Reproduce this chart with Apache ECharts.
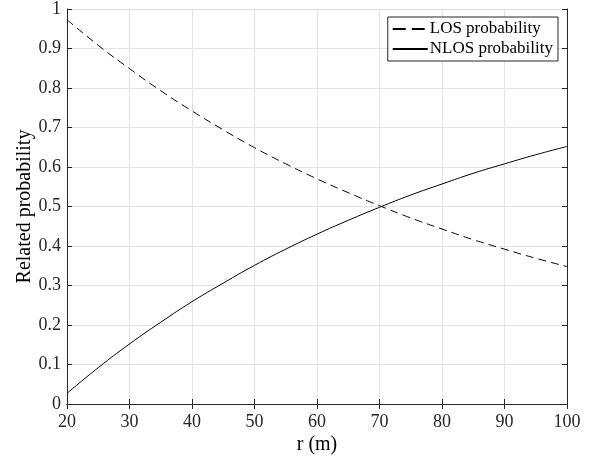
<!DOCTYPE html>
<html>
<head>
<meta charset="utf-8">
<script src="https://cdn.jsdelivr.net/npm/echarts@6/dist/echarts.min.js"></script>
<style>
html, body { margin: 0; padding: 0; background: #fff; }
#graph { width: 591px; height: 456px; }
</style>
</head>
<body>
<div id="graph"></div>
<script>
// distance r (m)
var distances = [20, 25, 30, 35, 40, 45, 50, 55, 60, 65, 70, 75, 80, 85, 90, 95, 100];
var losProb = [0.973, 0.908, 0.849, 0.793, 0.742, 0.694, 0.649, 0.608, 0.570, 0.535, 0.502, 0.471, 0.443, 0.416, 0.392, 0.369, 0.348];
var nlosProb = [0.027, 0.092, 0.152, 0.207, 0.259, 0.306, 0.351, 0.392, 0.430, 0.465, 0.498, 0.529, 0.557, 0.584, 0.608, 0.631, 0.652];
var seriesNames = ['LOS probability', 'NLOS probability'];

var dom = document.getElementById("graph");
var chart = echarts.init(dom);

var font = 'Liberation Serif';

function pairs(ys) {
    return distances.map(function (x, i) { return [x, ys[i]]; });
}

var frameAxis = {
    axisLine: { show: true, lineStyle: { color: '#262626', width: 1 } },
    axisTick: { show: true, inside: true, length: 5, lineStyle: { color: '#262626' } },
    axisLabel: { show: false },
    splitLine: { show: false }
};

chart.setOption({
    animation: false,
    textStyle: { fontFamily: font },
    grid: { left: 67, right: 24, top: 9, bottom: 52, containLabel: false, outerBoundsMode: 'none' },
    legend: {
        data: [
            { name: seriesNames[0], lineStyle: { type: [13, 6] } },
            { name: seriesNames[1] }
        ],
        orient: 'vertical',
        right: 33,
        top: 17,
        itemWidth: 35,
        itemHeight: 20,
        itemGap: 0,
        padding: [2, 5, 2, 4],
        borderColor: '#262626',
        borderWidth: 1,
        borderRadius: 0,
        backgroundColor: '#fff',
        itemStyle: { opacity: 0 },
        textStyle: { fontFamily: font, fontSize: 17, lineHeight: 20, color: '#000', padding: [0, 0, 0, -3] }
    },
    xAxis: [
        {
            type: 'value',
            min: 20, max: 100, interval: 10,
            name: 'r (m)',
            nameLocation: 'middle',
            nameGap: 31,
            nameMoveOverlap: false,
            nameTextStyle: { fontFamily: font, fontSize: 20, color: '#000' },
            axisLine: { show: true, onZero: false, lineStyle: { color: '#262626' } },
            axisTick: { show: true, inside: true, length: 5, lineStyle: { color: '#262626' } },
            axisLabel: { fontFamily: font, fontSize: 18, color: '#262626', margin: 9 },
            splitLine: { show: true, lineStyle: { color: '#e3e3e3', width: 1 } }
        },
        echarts.util.merge({ type: 'value', position: 'top', min: 20, max: 100, interval: 10 }, frameAxis, true)
    ],
    yAxis: [
        {
            type: 'value',
            min: 0, max: 1, interval: 0.1,
            name: 'Related probability',
            nameLocation: 'middle',
            nameGap: 32,
            nameMoveOverlap: false,
            nameTextStyle: { fontFamily: font, fontSize: 20, color: '#000' },
            axisLine: { show: true, onZero: false, lineStyle: { color: '#262626' } },
            axisTick: { show: true, inside: true, length: 5, lineStyle: { color: '#262626' } },
            axisLabel: {
                fontFamily: font, fontSize: 18, color: '#262626', margin: 6,
                formatter: function (v) { return String(Math.round(v * 10) / 10); }
            },
            splitLine: { show: true, lineStyle: { color: '#e3e3e3', width: 1 } }
        },
        echarts.util.merge({ type: 'value', position: 'right', min: 0, max: 1, interval: 0.1 }, frameAxis, true)
    ],
    series: [
        {
            name: seriesNames[0],
            type: 'line',
            smooth: true,
            showSymbol: false,
            symbol: 'none',
            color: '#000',
            lineStyle: { color: '#000', width: 1, type: [8, 5] },
            data: pairs(losProb)
        },
        {
            name: seriesNames[1],
            type: 'line',
            smooth: true,
            showSymbol: false,
            symbol: 'none',
            color: '#000',
            lineStyle: { color: '#000', width: 1, type: 'solid' },
            data: pairs(nlosProb)
        }
    ]
});
</script>
</body>
</html>
